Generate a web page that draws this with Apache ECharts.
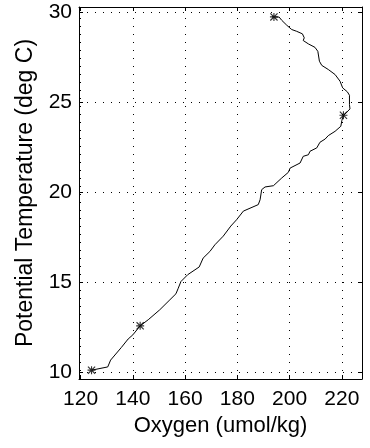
<!DOCTYPE html>
<html>
<head>
<meta charset="utf-8">
<script src="https://cdn.jsdelivr.net/npm/echarts@6/dist/echarts.min.js"></script>
<style>html,body{margin:0;padding:0;background:#fff}#c{width:370px;height:448px}</style>
</head>
<body>
<div id="c"></div>
<script>
// Profile data (top to bottom)
const oxygen = [193.3,196.0,197.0,198.9,200.8,202.7,204.9,205.6,205.2,207.2,209.7,210.8,211.4,212.3,214.8,217.4,219.3,220.3,222.1,222.9,222.9,223.1,221.6,220.6,220.0,219.6,217.4,214.8,213.6,211.6,210.4,207.8,207.2,205.2,204.0,200.2,199.5,197.0,193.8,190.6,189.3,188.7,188.0,182.3,179.7,177.5,174.6,171.4,169.5,166.9,165.4,161.0,158.4,157.3,156.5,154.2,150.3,145.9,142.8,140.0,138.2,135.6,131.5,130.4,124.2];
const temperature = [29.73,29.72,29.54,29.27,29.03,28.93,28.79,28.57,28.42,28.23,28.04,27.82,27.27,27.04,26.81,26.53,26.16,25.79,25.57,25.38,24.86,24.62,24.40,24.27,23.99,23.66,23.38,23.14,22.95,22.77,22.46,22.27,22.08,21.99,21.62,21.34,21.10,20.79,20.36,20.29,20.14,19.58,19.31,18.95,18.47,18.12,17.56,17.08,16.71,16.34,15.85,15.42,15.04,14.64,14.36,14.03,13.47,12.92,12.58,12.08,11.85,11.38,10.68,10.30,10.12];
const markerOxygen = [194.0, 220.6, 142.8, 124.2];
const markerTemperature = [29.73, 24.27, 12.58, 10.12];
const xTicks = [120,140,160,180,200,220];
const yTicks = [10,15,20,25,30];
const xName = 'Oxygen (umol/kg)';
const yName = 'Potential Temperature (deg C)';

const FONT = 'Liberation Sans';
const XMIN = 119.4, XMAX = 227.7, YMIN = 9.63, YMAX = 30.28;

const lineData = oxygen.map((x,i)=>[x, temperature[i]]);
const markerData = markerOxygen.map((x,i)=>[x, markerTemperature[i]]);
const star = 'path://M4.3,0L5.7,0L5.7,10L4.3,10Z M0,4.3L10,4.3L10,5.7L0,5.7Z M1,0L10,9L9,10L0,1Z M9,0L10,1L1,10L0,9Z';

const gridStyle = {color:'#000', width:1, type:[1,7]};
const gridLines = [];
xTicks.forEach(v=>gridLines.push([{coord:[v,YMIN]},{coord:[v,YMAX]}]));
yTicks.forEach(v=>gridLines.push([{coord:[XMIN,v]},{coord:[XMAX,v]}]));

function xAx(pos, showLabel){
  return {
    type:'value', position:pos, min:XMIN, max:XMAX,
    name: showLabel ? xName : '', nameLocation:'middle', nameGap:34,
    nameTextStyle:{fontFamily:FONT,fontSize:22,color:'#000'},
    axisLine:{show:true,onZero:false,lineStyle:{color:'#000',width:1}},
    axisTick:{show:true,inside:true,length:4,customValues:xTicks,lineStyle:{color:'#000'}},
    axisLabel:{show:showLabel,customValues:xTicks,margin:10,fontFamily:FONT,fontSize:21,color:'#000'},
    splitLine:{show:false}
  };
}
function yAx(pos, showLabel){
  return {
    type:'value', position:pos, min:YMIN, max:YMAX,
    name: showLabel ? yName : '', nameLocation:'middle', nameGap:42,
    nameTextStyle:{fontFamily:FONT,fontSize:23,color:'#000'},
    axisLine:{show:true,onZero:false,lineStyle:{color:'#000',width:1}},
    axisTick:{show:true,inside:true,length:4,customValues:yTicks,lineStyle:{color:'#000'}},
    axisLabel:{show:showLabel,customValues:yTicks,margin:7,fontFamily:FONT,fontSize:21,color:'#000'},
    splitLine:{show:false}
  };
}

const chart = echarts.init(document.getElementById('c'), null, {renderer:'canvas'});
chart.setOption({
  animation:false,
  backgroundColor:'#fff',
  grid:{left:79, right:8, top:7, bottom:69, containLabel:false},
  xAxis:[xAx('bottom',true), xAx('top',false)],
  yAxis:[yAx('left',true), yAx('right',false)],
  series:[
    {
      type:'line', data:lineData, xAxisIndex:0, yAxisIndex:0,
      showSymbol:false, symbol:'none', smooth:false,
      lineStyle:{color:'#000', width:1},
      z:3,
      markLine:{silent:true, symbol:'none', label:{show:false},
        lineStyle:gridStyle, data:gridLines, animation:false}
    },
    {
      type:'scatter', data:markerData, xAxisIndex:0, yAxisIndex:0,
      symbol:star, symbolSize:8,
      itemStyle:{color:'#000'}, z:4
    }
  ]
});
</script>
</body>
</html>
